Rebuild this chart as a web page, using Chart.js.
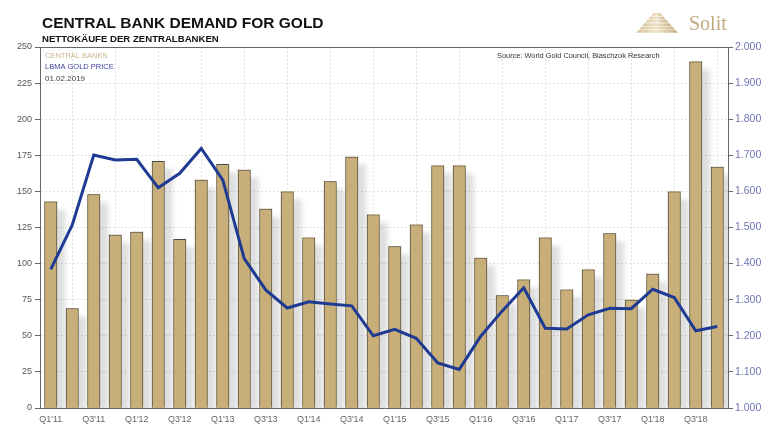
<!DOCTYPE html>
<html>
<head>
<meta charset="utf-8">
<script src="https://cdn.jsdelivr.net/npm/chart.js@4.4.1/dist/chart.umd.min.js"></script>
<style>
  html, body { margin: 0; padding: 0; background: #fff; }
  #wrap { width: 768px; height: 432px; }
</style>
</head>
<body>
<div id="wrap"><canvas id="myChart" width="768" height="432"></canvas></div>
<script>
(() => {
    'use strict'

    // quarters Q1'11 .. Q4'18
    const quarters = [
        "Q1'11", "Q2'11", "Q3'11", "Q4'11", "Q1'12", "Q2'12", "Q3'12", "Q4'12",
        "Q1'13", "Q2'13", "Q3'13", "Q4'13", "Q1'14", "Q2'14", "Q3'14", "Q4'14",
        "Q1'15", "Q2'15", "Q3'15", "Q4'15", "Q1'16", "Q2'16", "Q3'16", "Q4'16",
        "Q1'17", "Q2'17", "Q3'17", "Q4'17", "Q1'18", "Q2'18", "Q3'18", "Q4'18"
    ];

    // central bank net purchases (tonnes, left axis)
    const centralBanks = [
        143, 69, 148, 120, 122, 171, 117, 158,
        169, 165, 138, 150, 118, 157, 174, 134,
        112, 127, 168, 168, 104, 78, 89, 118,
        82, 96, 121, 75, 93, 150, 240, 167
    ];

    // LBMA gold price (USD, right axis)
    const goldPrice = [
        1384, 1507, 1701, 1687, 1689, 1610, 1650, 1719,
        1632, 1414, 1327, 1277, 1294, 1288, 1283, 1200,
        1218, 1193, 1125, 1107, 1199, 1269, 1333, 1221,
        1219, 1258, 1276, 1275, 1329, 1306, 1214, 1226
    ];

    const leftTicks = { min: 0, max: 250, step: 25 };
    const rightTicks = { min: 1000, max: 2000, step: 100 };

    const gold = '#c8ae78';
    const blue = '#1f3a93';
    const axisGrey = '#666';

    // soft shadow to the right of each bar
    const barShadow = {
        id: 'barShadow',
        beforeDatasetDraw(chart, args) {
            if (args.index !== 0) return;
            const c = chart.ctx;
            const a = chart.chartArea;
            c.save();
            c.beginPath();
            c.rect(a.left, a.top, a.right - a.left, a.bottom - a.top);
            c.clip();
            c.shadowColor = 'rgba(0,0,0,0.13)';
            c.shadowBlur = 5;
            c.shadowOffsetX = 8;
            c.shadowOffsetY = 8;
            c.fillStyle = gold;
            args.meta.data.forEach(bar => {
                const p = bar.getProps(['x', 'y', 'base', 'width'], true);
                c.fillRect(p.x - p.width / 2, p.y, p.width, p.base - p.y + 20);
            });
            c.restore();
        }
    };

    // titles, notes, logo, top border
    const decor = {
        id: 'decor',
        beforeDraw(chart) {
            const c = chart.ctx;
            c.save();
            c.fillStyle = '#fff';
            c.fillRect(0, 0, chart.width, chart.height);
            c.restore();
        },
        afterDraw(chart) {
            const c = chart.ctx;
            const a = chart.chartArea;
            c.save();

            c.strokeStyle = axisGrey;
            c.lineWidth = 1;
            c.beginPath();
            c.moveTo(a.left, a.top + 0.5);
            c.lineTo(a.right, a.top + 0.5);
            c.stroke();

            c.textBaseline = 'alphabetic';
            c.textAlign = 'left';
            c.fillStyle = '#111';
            c.font = 'bold 15.5px "Liberation Sans", Arial, sans-serif';
            c.fillText('CENTRAL BANK DEMAND FOR GOLD', 42, 28);
            c.font = 'bold 9.6px "Liberation Sans", Arial, sans-serif';
            c.fillText('NETTOKÄUFE DER ZENTRALBANKEN', 42, 42);

            c.font = '7.5px "Liberation Sans", Arial, sans-serif';
            c.fillStyle = '#c9b68c';
            c.fillText('CENTRAL BANKS', 45, 58);
            c.fillStyle = '#3d3f9c';
            c.fillText('LBMA GOLD PRICE', 45, 69);
            c.fillStyle = '#444';
            c.font = '8px "Liberation Sans", Arial, sans-serif';
            c.fillText('01.02.2019', 45, 81);

            c.fillStyle = '#333';
            c.font = '7.4px "Liberation Sans", Arial, sans-serif';
            c.fillText('Source: World Gold Council, Blaschzok Research', 497, 58);

            // logo pyramid
            const cx = 657;
            const layers = 6;
            for (let i = 0; i < layers; i++) {
                const y0 = 13 + i * 3.4;
                const y1 = y0 + 2.8;
                const w0 = 6 + i * 6.2;
                const w1 = w0 + 5;
                const g = c.createLinearGradient(cx - w1 / 2, 0, cx + w1 / 2, 0);
                g.addColorStop(0, '#d9c59c');
                g.addColorStop(0.5, '#efe4cc');
                g.addColorStop(1, '#c7ad7c');
                c.fillStyle = g;
                c.beginPath();
                c.moveTo(cx - w0 / 2, y0);
                c.lineTo(cx + w0 / 2, y0);
                c.lineTo(cx + w1 / 2, y1);
                c.lineTo(cx - w1 / 2, y1);
                c.closePath();
                c.fill();
            }
            c.fillStyle = '#c2a97f';
            c.font = '20px "Liberation Serif", "DejaVu Serif", serif';
            c.fillText('Solit', 689, 30);

            c.restore();
        }
    };

    const ctx = document.getElementById('myChart');

    new Chart(ctx, {
        data: {
            labels: quarters,
            datasets: [{
                type: 'bar',
                label: 'CENTRAL BANKS',
                data: centralBanks,
                yAxisID: 'y',
                backgroundColor: gold,
                borderColor: '#4a4a4a',
                borderWidth: 1,
                categoryPercentage: 1,
                barPercentage: 0.6,
                order: 1
            }, {
                type: 'line',
                label: 'LBMA GOLD PRICE',
                data: goldPrice,
                yAxisID: 'y1',
                borderColor: blue,
                borderWidth: 3,
                pointRadius: 0,
                tension: 0,
                fill: false,
                order: 0
            }]
        },
        options: {
            responsive: false,
            animation: false,
            layout: { padding: { top: 47, left: 0, right: 0, bottom: 0 } },
            plugins: {
                legend: { display: false },
                tooltip: { enabled: false }
            },
            scales: {
                x: {
                    offset: true,
                    grid: {
                        offset: true,
                        color: '#e2e2e2',
                        drawTicks: false
                    },
                    border: { display: true, color: axisGrey, width: 1, dash: [2, 2] },
                    ticks: {
                        autoSkip: false,
                        maxRotation: 0,
                        padding: 6,
                        color: '#666',
                        font: { family: '"Liberation Sans", Arial, sans-serif', size: 9 },
                        callback: (v, i) => (i % 2 === 0 ? quarters[i] : null)
                    },
                    afterFit: s => { s.height = 24; }
                },
                y: {
                    position: 'left',
                    min: leftTicks.min,
                    max: leftTicks.max,
                    grid: {
                        color: '#e2e2e2',
                        tickColor: axisGrey,
                        tickLength: 5,
                        tickBorderDash: []
                    },
                    border: { display: true, color: axisGrey, width: 1, dash: [2, 2] },
                    ticks: {
                        stepSize: leftTicks.step,
                        padding: 3,
                        color: '#555',
                        font: { family: '"Liberation Sans", Arial, sans-serif', size: 9 }
                    },
                    afterFit: s => { s.width = 40; }
                },
                y1: {
                    position: 'right',
                    min: rightTicks.min,
                    max: rightTicks.max,
                    grid: {
                        drawOnChartArea: false,
                        tickColor: axisGrey,
                        tickLength: 5
                    },
                    border: { display: true, color: axisGrey, width: 1 },
                    ticks: {
                        stepSize: rightTicks.step,
                        padding: 2,
                        color: '#6f76b5',
                        font: { family: '"Liberation Sans", Arial, sans-serif', size: 10.5 },
                        callback: v => (v / 1000).toFixed(3)
                    },
                    afterFit: s => { s.width = 40; }
                }
            }
        },
        plugins: [barShadow, decor]
    })
})()
</script>
</body>
</html>
